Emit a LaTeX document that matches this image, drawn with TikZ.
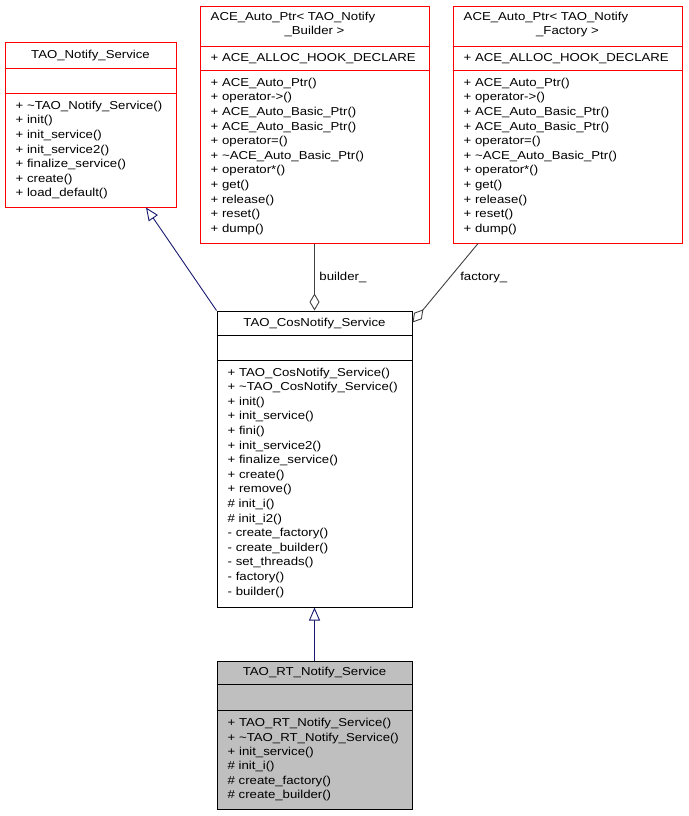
\documentclass[tikz,border=0pt]{standalone}
\usepackage{fontspec}
\setmainfont{Liberation Sans}[FakeStretch=1.148]
\usetikzlibrary{arrows.meta}
\definecolor{midnight}{HTML}{191970}
\definecolor{edgegray}{HTML}{404040}
\definecolor{rtgray}{HTML}{BFBFBF}

\begin{document}
\begin{tikzpicture}[x=1pt, y=-1pt, font=\fontsize{11.5}{14.6}\selectfont,
        box/.style={draw, line width=1pt, inner sep=0pt},
        redbox/.style={box, draw=red},
        blackbox/.style={box, draw=black},
        title/.style={inner sep=0pt, text height=8.4pt, text depth=2.4pt},
        members/.style={inner sep=0pt, anchor=north west, align=left},
        inherit/.style={draw=midnight, line width=0.9pt, -{Triangle[open, length=13pt, width=11pt]}},
        aggr/.style={draw=edgegray, line width=0.9pt, -{Diamond[open, length=17pt, width=10pt]}},
        edgelabel/.style={inner sep=0pt, anchor=west, text height=8.4pt, text depth=2.4pt}
    ]
        \useasboundingbox (0,0) rectangle (688,816);

        \node[redbox, minimum width=171pt, minimum height=164pt] (notify) at (90.5,125) {};
        \draw[red, line width=1pt] ([yshift=-26pt]notify.north west) -- ([yshift=-26pt]notify.north east);
        \draw[red, line width=1pt] ([yshift=-51pt]notify.north west) -- ([yshift=-51pt]notify.north east);
        \node[title] (notify-name) at (90.5,56) {TAO\_Notify\_Service};
        \node[members] (notify-ops) at (15.5,98.9) {\strut + \textasciitilde TAO\_Notify\_Service()\\
            + init()\\ + init\_service()\\ + init\_service2()\\ + finalize\_service()\\
            + create()\\ + load\_default()};

        \node[redbox, minimum width=229pt, minimum height=236pt] (builder) at (314.5,125) {};
        \draw[red, line width=1pt] ([yshift=-40pt]builder.north west) -- ([yshift=-40pt]builder.north east);
        \draw[red, line width=1pt] ([yshift=-64pt]builder.north west) -- ([yshift=-64pt]builder.north east);
        \node[title, anchor=west] (builder-name) at (210.5,18) {ACE\_Auto\_Ptr< TAO\_Notify};
        \node[title] (builder-name2) at (314.5,32) {\_Builder >};
        \node[title, anchor=west] (builder-attr) at (210.5,58.5) {+ ACE\_ALLOC\_HOOK\_DECLARE};
        \node[members] (builder-ops) at (210.5,75.9) {\strut + ACE\_Auto\_Ptr()\\ + operator->()\\
            + ACE\_Auto\_Basic\_Ptr()\\ + ACE\_Auto\_Basic\_Ptr()\\ + operator=()\\
            + \textasciitilde ACE\_Auto\_Basic\_Ptr()\\ + operator*()\\ + get()\\
            + release()\\ + reset()\\ + dump()};

        \node[redbox, minimum width=229pt, minimum height=236pt] (factory) at (567.5,125) {};
        \draw[red, line width=1pt] ([yshift=-40pt]factory.north west) -- ([yshift=-40pt]factory.north east);
        \draw[red, line width=1pt] ([yshift=-64pt]factory.north west) -- ([yshift=-64pt]factory.north east);
        \node[title, anchor=west] (factory-name) at (463.5,18) {ACE\_Auto\_Ptr< TAO\_Notify};
        \node[title] (factory-name2) at (567.5,32) {\_Factory >};
        \node[title, anchor=west] (factory-attr) at (463.5,58.5) {+ ACE\_ALLOC\_HOOK\_DECLARE};
        \node[members] (factory-ops) at (463.5,75.9) {\strut + ACE\_Auto\_Ptr()\\ + operator->()\\
            + ACE\_Auto\_Basic\_Ptr()\\ + ACE\_Auto\_Basic\_Ptr()\\ + operator=()\\
            + \textasciitilde ACE\_Auto\_Basic\_Ptr()\\ + operator*()\\ + get()\\
            + release()\\ + reset()\\ + dump()};

        \node[blackbox, minimum width=195pt, minimum height=296pt] (cos) at (314.5,459) {};
        \draw[line width=1pt] ([yshift=-25pt]cos.north west) -- ([yshift=-25pt]cos.north east);
        \draw[line width=1pt] ([yshift=-50pt]cos.north west) -- ([yshift=-50pt]cos.north east);
        \node[title] (cos-name) at (314.5,323) {TAO\_CosNotify\_Service};
        \node[members] (cos-ops) at (227.5,365.6) {\strut + TAO\_CosNotify\_Service()\\
            + \textasciitilde TAO\_CosNotify\_Service()\\ + init()\\ + init\_service()\\
            + fini()\\ + init\_service2()\\ + finalize\_service()\\ + create()\\
            + remove()\\ \# init\_i()\\ \# init\_i2()\\ - create\_factory()\\
            - create\_builder()\\ - set\_threads()\\ - factory()\\ - builder()};

        \node[blackbox, fill=rtgray, minimum width=195pt, minimum height=148pt] (rt) at (314.5,735) {};
        \draw[line width=1pt] ([yshift=-24pt]rt.north west) -- ([yshift=-24pt]rt.north east);
        \draw[line width=1pt] ([yshift=-50pt]rt.north west) -- ([yshift=-50pt]rt.north east);
        \node[title] (rt-name) at (314.5,672.5) {TAO\_RT\_Notify\_Service};
        \node[members, font=\fontsize{11.5}{14.35}\selectfont] (rt-ops) at (227.5,716.4) {\strut
            + TAO\_RT\_Notify\_Service()\\ + \textasciitilde TAO\_RT\_Notify\_Service()\\
            + init\_service()\\ \# init\_i()\\ \# create\_factory()\\ \# create\_builder()};

        \draw[inherit] (cos.north west) -- ([xshift=55.5pt]notify.south);
        \draw[inherit] (rt.north) -- (cos.south);
        \draw[aggr] (builder.south) -- (cos.north)
            node[edgelabel, midway, xshift=4.5pt] (builder-label) {builder\_};
        \draw[aggr] ([xshift=-89.5pt]factory.south) -- ([yshift=-12pt]cos.north east)
            node[edgelabel, pos=0.43, xshift=10pt] (factory-label) {factory\_};
    \end{tikzpicture}
\end{document}
